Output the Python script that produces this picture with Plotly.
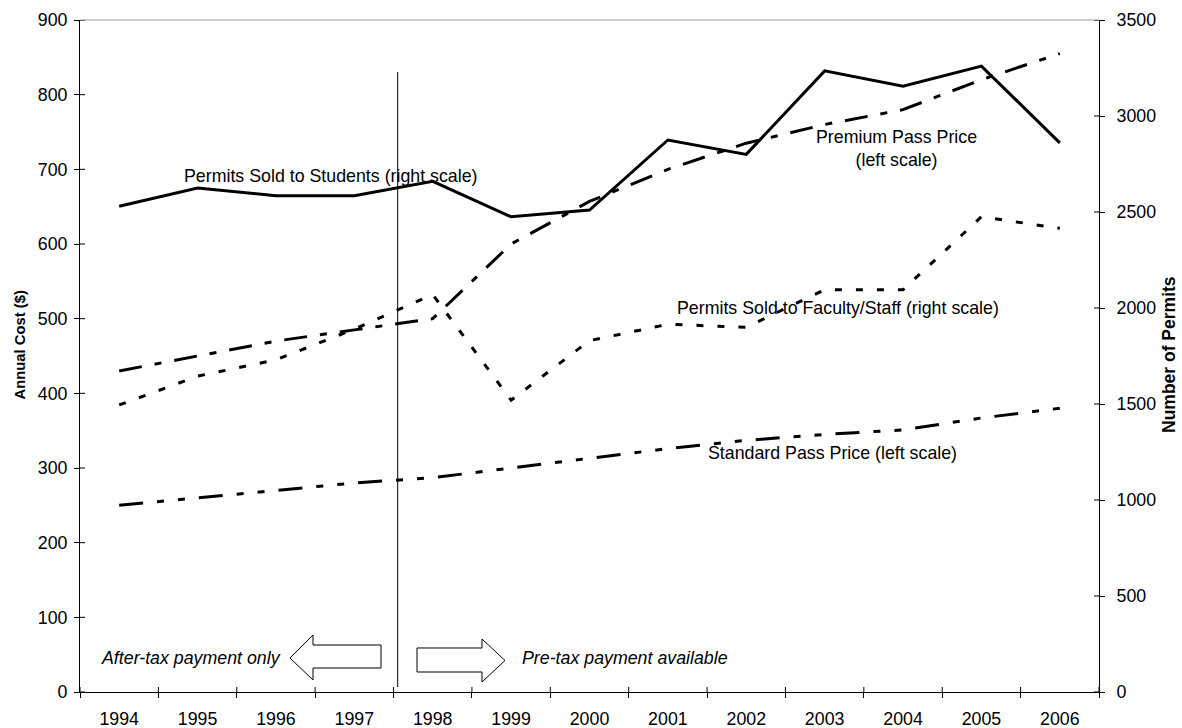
import plotly.graph_objects as go

# ---------------- data ----------------
years = ["1994", "1995", "1996", "1997", "1998", "1999", "2000",
         "2001", "2002", "2003", "2004", "2005", "2006"]
students_permits = [2530, 2625, 2585, 2585, 2660, 2475, 2510, 2875, 2800, 3235, 3155, 3260, 2860]
faculty_permits = [1495, 1645, 1730, 1890, 2070, 1520, 1830, 1915, 1900, 2095, 2095, 2475, 2415]
premium_price = [430, 450, 470, 485, 500, 600, 657, 700, 735, 760, 780, 820, 855]
standard_price = [250, 260, 270, 280, 287, 300, 313, 326, 337, 345, 351, 367, 380]
left_ticks = [0, 100, 200, 300, 400, 500, 600, 700, 800, 900]
right_ticks = [0, 500, 1000, 1500, 2000, 2500, 3000, 3500]

# ---------------- geometry helpers (pixel -> paper) ----------------
W, H = 1182, 728
L, R, T, B = 80, 1099, 20, 692


def px(x):
    return (x - L) / (R - L)


def py(y):
    return (B - y) / (B - T)


FONT = 'Arial, "Liberation Sans", sans-serif'
FS = 17.8

fig = go.Figure()

fig.add_trace(go.Scatter(x=years, y=students_permits, yaxis="y2", mode="lines",
                         line=dict(color="black", width=3), name="Permits Sold to Students"))
fig.add_trace(go.Scatter(x=years, y=faculty_permits, yaxis="y2", mode="lines",
                         line=dict(color="black", width=3, dash="7px,14px"),
                         name="Permits Sold to Faculty/Staff"))
fig.add_trace(go.Scatter(x=years, y=premium_price, yaxis="y", mode="lines",
                         line=dict(color="black", width=3, dash="23px,13px,7px,13px"),
                         name="Premium Pass Price"))
fig.add_trace(go.Scatter(x=years, y=standard_price, yaxis="y", mode="lines",
                         line=dict(color="black", width=3, dash="24px,14px,7px,14px,7px,14px"),
                         name="Standard Pass Price"))

axis_common = dict(showgrid=False, zeroline=False, showline=True, linecolor="black",
                   linewidth=1, ticks="outside", ticklen=5, tickcolor="black", tickwidth=1,
                   tickfont=dict(family=FONT, size=FS, color="black"))

fig.update_layout(
    width=W, height=H,
    margin=dict(l=L, r=W - R, t=T, b=H - B, autoexpand=False),
    plot_bgcolor="white", paper_bgcolor="white",
    showlegend=False,
    font=dict(family=FONT, size=FS, color="black"),
    xaxis=dict(type="category", categoryorder="array", categoryarray=years,
               range=[-0.5, 12.5], tickson="boundaries", ticklabelstandoff=11,
               **axis_common),
    yaxis=dict(range=[0, 900], tickvals=left_ticks, ticklabelstandoff=3, **axis_common),
    yaxis2=dict(range=[0, 3500], tickvals=right_ticks, overlaying="y", side="right",
                ticklabelstandoff=8, **axis_common),
)

shapes = []
# gray top border
shapes.append(dict(type="line", xref="paper", yref="paper", x0=0, x1=1, y0=1, y1=1,
                   line=dict(color="#999999", width=1)))
# inside halves of crossing ticks
for v in left_ticks:
    shapes.append(dict(type="line", xref="paper", yref="y", xsizemode="pixel", xanchor=0,
                       x0=0, x1=5, y0=v, y1=v, line=dict(color="black", width=1)))
for v in right_ticks:
    shapes.append(dict(type="line", xref="paper", yref="y2", xsizemode="pixel", xanchor=1,
                       x0=-5, x1=0, y0=v, y1=v, line=dict(color="black", width=1)))
for i in range(len(years) + 1):
    shapes.append(dict(type="line", xref="x", yref="paper", ysizemode="pixel", yanchor=0,
                       x0=i - 0.5, x1=i - 0.5, y0=0, y1=5, line=dict(color="black", width=1)))

# vertical divider between after-tax and pre-tax periods
shapes.append(dict(type="line", xref="x", yref="paper", x0=3.553, x1=3.553,
                   y0=py(687), y1=py(72), line=dict(color="black", width=1)))


def path(points):
    return "M " + " L ".join(f"{px(a):.5f},{py(b):.5f}" for a, b in points) + " Z"


left_arrow = [(290, 658), (313, 635), (313, 645), (381, 645), (381, 668), (313, 668), (313, 680)]
right_arrow = [(417, 648), (482, 648), (482, 639), (505, 660.5), (482, 682), (482, 672), (417, 672)]
for pts in (left_arrow, right_arrow):
    shapes.append(dict(type="path", xref="paper", yref="paper", path=path(pts),
                       fillcolor="white", line=dict(color="black", width=1)))

fig.update_layout(shapes=shapes)

annotations = [
    dict(text="Permits Sold to Students (right scale)", x=px(330.5), y=py(176),
         xanchor="center", yanchor="middle"),
    dict(text="Premium Pass Price<br>(left scale)", x=px(896.6), y=py(148),
         xanchor="center", yanchor="middle"),
    dict(text="Permits Sold to Faculty/Staff (right scale)", x=px(838), y=py(308),
         xanchor="center", yanchor="middle"),
    dict(text="Standard Pass Price (left scale)", x=px(832), y=py(453),
         xanchor="center", yanchor="middle"),
    dict(text="<i>After-tax payment only</i>", x=px(283), y=py(658),
         xanchor="right", yanchor="middle"),
    dict(text="<i>Pre-tax payment available</i>", x=px(520), y=py(658),
         xanchor="left", yanchor="middle"),
    dict(text="<b>Annual Cost ($)</b>", x=px(19.5), y=py(345), textangle=-90,
         xanchor="center", yanchor="middle", font=dict(family=FONT, size=14.8, color="black")),
    dict(text="<b>Number of Permits</b>", x=px(1169), y=py(355), textangle=-90,
         xanchor="center", yanchor="middle", font=dict(family=FONT, size=17.5, color="black")),
]
for a in annotations:
    a.setdefault("font", dict(family=FONT, size=FS, color="black"))
    a.update(xref="paper", yref="paper", showarrow=False, align="center")
fig.update_layout(annotations=annotations)

fig.write_html("out.html", config={"displayModeBar": False},
               post_script="document.body.style.margin='0';")
